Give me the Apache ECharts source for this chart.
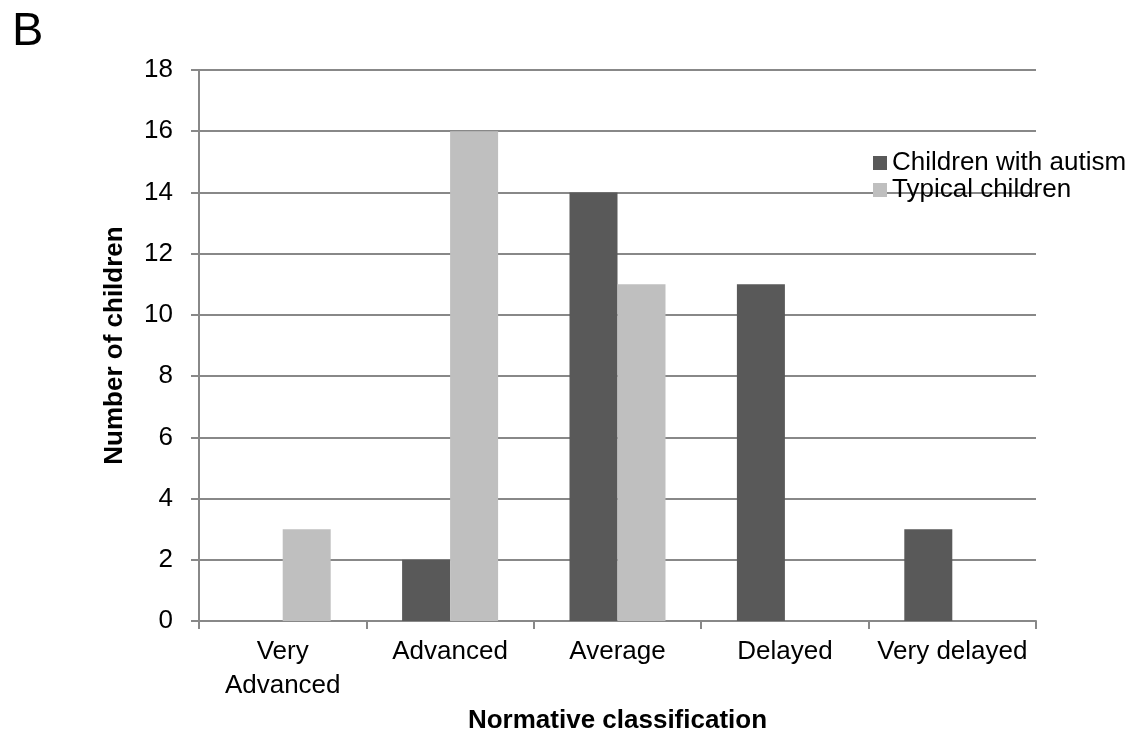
<!DOCTYPE html>
<html>
<head>
<meta charset="utf-8">
<script src="https://cdn.jsdelivr.net/npm/echarts@6/dist/echarts.min.js"></script>
<style>
html,body{margin:0;padding:0;background:#fff;}
#main{width:1139px;height:736px;}
</style>
</head>
<body>
<div id="main"></div>
<script>
const categories = ['Very\nAdvanced', 'Advanced', 'Average', 'Delayed', 'Very delayed'];
const autism = [0, 2, 14, 11, 3];
const typical = [3, 16, 11, 0, 0];
const seriesNames = ['Children with autism', 'Typical children'];

const font = 'Liberation Sans, Arial, sans-serif';
const chart = echarts.init(document.getElementById('main'), null, {renderer: 'canvas'});
chart.setOption({
  backgroundColor: '#fff',
  animation: false,
  title: {
    text: 'B', left: 7, top: 4,
    textStyle: {fontFamily: font, fontSize: 47, fontWeight: 'normal', color: '#000'}
  },
  legend: {
    orient: 'vertical', left: 873, top: 150, padding: 0,
    itemWidth: 14, itemHeight: 14, itemGap: 1,
    icon: 'rect',
    textStyle: {fontFamily: font, fontSize: 26, color: '#000', lineHeight: 24},
    data: seriesNames
  },
  grid: {left: 199, right: 103, top: 70, bottom: 115, containLabel: false, outerBoundsMode: 'none'},
  xAxis: {
    type: 'category',
    data: categories,
    name: 'Normative classification',
    nameLocation: 'middle', nameGap: 85,
    nameTextStyle: {fontFamily: font, fontSize: 26, fontWeight: 'bold', color: '#000'},
    axisLine: {lineStyle: {color: '#888', width: 2}},
    axisTick: {show: true, length: 8, lineStyle: {color: '#888', width: 2}},
    axisLabel: {fontFamily: font, fontSize: 26, color: '#000', margin: 14, lineHeight: 34, interval: 0},
  },
  yAxis: {
    type: 'value', min: 0, max: 18, interval: 2,
    name: 'Number of children',
    nameLocation: 'middle', nameGap: 71,
    nameTextStyle: {fontFamily: font, fontSize: 26, fontWeight: 'bold', color: '#000'},
    axisLine: {show: true, lineStyle: {color: '#888', width: 2}},
    axisTick: {show: true, length: 8, lineStyle: {color: '#888', width: 2}},
    axisLabel: {fontFamily: font, fontSize: 26, color: '#000', margin: 26},
    splitLine: {show: true, lineStyle: {color: '#888', width: 2}}
  },
  series: [
    {name: seriesNames[0], type: 'bar', data: autism, barWidth: 48, barGap: '0%',
     itemStyle: {color: '#595959'}},
    {name: seriesNames[1], type: 'bar', data: typical, barWidth: 48, barGap: '0%',
     itemStyle: {color: '#bfbfbf'}}
  ]
});
</script>
</body>
</html>
